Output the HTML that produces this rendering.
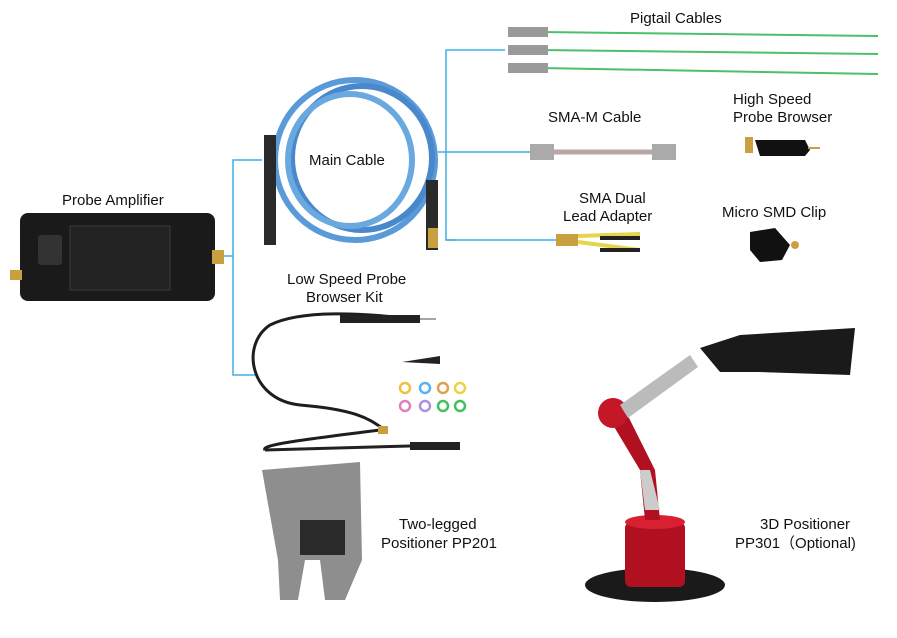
<!DOCTYPE html>
<html><head><meta charset="utf-8"><style>
html,body{margin:0;padding:0;background:#fff;}
svg{display:block}
text{font-family:"Liberation Sans","Noto Sans CJK SC",sans-serif;font-size:15px;fill:#111}
</style></head><body>
<svg width="897" height="638" viewBox="0 0 897 638" xmlns="http://www.w3.org/2000/svg">
<rect width="897" height="638" fill="#fff"/>
<g stroke="#3fb0e0" stroke-width="1.5" fill="none">
<path d="M222 256 H233 V160 H262"/>
<path d="M233 256 V375 H256"/>
<path d="M438 152 H446 V240 H456"/>
<path d="M446 152 V50 H505"/>
<path d="M446 152 H530"/>
<path d="M446 240 H556"/>
</g>
<g>
<line x1="540" y1="32" x2="878" y2="36" stroke="#4bbf6b" stroke-width="2"/>
<line x1="540" y1="50" x2="878" y2="54" stroke="#4bbf6b" stroke-width="2"/>
<line x1="540" y1="68" x2="878" y2="74" stroke="#4bbf6b" stroke-width="2"/>
<rect x="508" y="27" width="40" height="10" fill="#9a9a9a"/>
<rect x="508" y="45" width="40" height="10" fill="#9a9a9a"/>
<rect x="508" y="63" width="40" height="10" fill="#9a9a9a"/>
</g>
<rect x="20" y="213" width="195" height="88" rx="8" fill="#1a1a1a"/>
<rect x="38" y="235" width="24" height="30" rx="3" fill="#333"/>
<rect x="70" y="226" width="100" height="64" fill="#222" stroke="#3a3a3a"/>
<rect x="212" y="250" width="12" height="14" fill="#c8a040"/>
<rect x="10" y="270" width="12" height="10" fill="#c8a040"/>
<g fill="none" stroke="#5a9ad8" stroke-width="6">
<ellipse cx="355" cy="160" rx="80" ry="80"/>
<ellipse cx="362" cy="158" rx="70" ry="72" stroke="#4a88cc"/>
<ellipse cx="350" cy="160" rx="62" ry="66" stroke="#6aa8e0"/>
</g>
<rect x="264" y="135" width="12" height="110" fill="#2a2a2a"/>
<rect x="426" y="180" width="12" height="70" fill="#2a2a2a"/>
<rect x="428" y="228" width="10" height="20" fill="#c8a040"/>
<rect x="300" y="148" width="100" height="24" fill="#fff"/>
<rect x="530" y="144" width="24" height="16" fill="#aaa"/>
<line x1="554" y1="152" x2="655" y2="152" stroke="#b9a7a7" stroke-width="5"/>
<rect x="652" y="144" width="24" height="16" fill="#aaa"/>
<rect x="745" y="137" width="8" height="16" fill="#c8a040"/>
<path d="M755 140 L805 140 L810 150 L805 156 L760 156 Z" fill="#111"/>
<line x1="808" y1="148" x2="820" y2="148" stroke="#c8a040" stroke-width="2"/>
<rect x="556" y="234" width="22" height="12" fill="#c8a040"/>
<path d="M578 236 L640 234 M578 242 L640 250" stroke="#e6d44a" stroke-width="4"/>
<rect x="600" y="236" width="40" height="4" fill="#222"/>
<rect x="600" y="248" width="40" height="4" fill="#222"/>
<path d="M750 232 L775 228 L790 245 L782 260 L760 262 L750 250 Z" fill="#111"/>
<circle cx="795" cy="245" r="4" fill="#c8a040"/>
<g fill="none" stroke="#1e1e1e" stroke-width="3">
<path d="M420 320 C360 312 300 310 270 325 C240 345 250 400 300 405 C360 410 370 420 385 430"/>
<path d="M380 430 C300 440 260 445 265 450"/>
</g>
<rect x="340" y="315" width="80" height="8" fill="#222"/>
<line x1="420" y1="319" x2="436" y2="319" stroke="#888" stroke-width="1.5"/>
<path d="M402 362 L440 356 L440 364 Z" fill="#222"/>
<rect x="378" y="426" width="10" height="8" fill="#c8a040"/>
<rect x="410" y="442" width="50" height="8" fill="#222"/>
<line x1="265" y1="450" x2="410" y2="446" stroke="#222" stroke-width="3"/>
<g fill="none" stroke-width="2.5">
<circle cx="405" cy="388" r="5" stroke="#f0c040"/><circle cx="425" cy="388" r="5" stroke="#5ab0f0"/><circle cx="443" cy="388" r="5" stroke="#e0a050"/><circle cx="460" cy="388" r="5" stroke="#f0d040"/>
<circle cx="405" cy="406" r="5" stroke="#e080c0"/><circle cx="425" cy="406" r="5" stroke="#b090e0"/><circle cx="443" cy="406" r="5" stroke="#40c060"/><circle cx="460" cy="406" r="5" stroke="#40c060"/>
</g>
<path d="M262 470 L360 462 L362 560 L345 600 L325 600 L320 560 L305 560 L298 600 L280 600 L278 560 Z" fill="#8e8e8e"/>
<rect x="300" y="520" width="45" height="35" fill="#2a2a2a"/>
<ellipse cx="655" cy="585" rx="70" ry="17" fill="#1a1a1a"/>
<rect x="625" y="522" width="60" height="65" rx="6" fill="#b01020"/>
<ellipse cx="655" cy="522" rx="30" ry="7" fill="#d82030"/>
<path d="M645 520 L640 470 L610 420 L625 410 L655 470 L660 520 Z" fill="#b01020"/>
<path d="M640 470 L650 470 L660 510 L645 510 Z" fill="#ccc"/>
<circle cx="613" cy="413" r="15" fill="#c41828"/>
<path d="M620 405 L690 355 L698 367 L628 418 Z" fill="#bbb"/>
<path d="M700 348 L740 335 L855 328 L850 375 L760 372 L720 372 Z" fill="#1a1a1a"/>
<text x="630" y="23">Pigtail Cables</text>
<text x="309" y="165">Main Cable</text>
<text x="62" y="205">Probe Amplifier</text>
<text x="548" y="122">SMA-M Cable</text>
<text x="733" y="104">High Speed</text>
<text x="733" y="122">Probe Browser</text>
<text x="579" y="203">SMA Dual</text>
<text x="563" y="221">Lead Adapter</text>
<text x="722" y="217">Micro SMD Clip</text>
<text x="287" y="284">Low Speed Probe</text>
<text x="306" y="302">Browser Kit</text>
<text x="399" y="529">Two-legged</text>
<text x="381" y="548">Positioner PP201</text>
<text x="760" y="529">3D Positioner</text>
<text x="735" y="548">PP301（Optional)</text>
</svg>
</body></html>
